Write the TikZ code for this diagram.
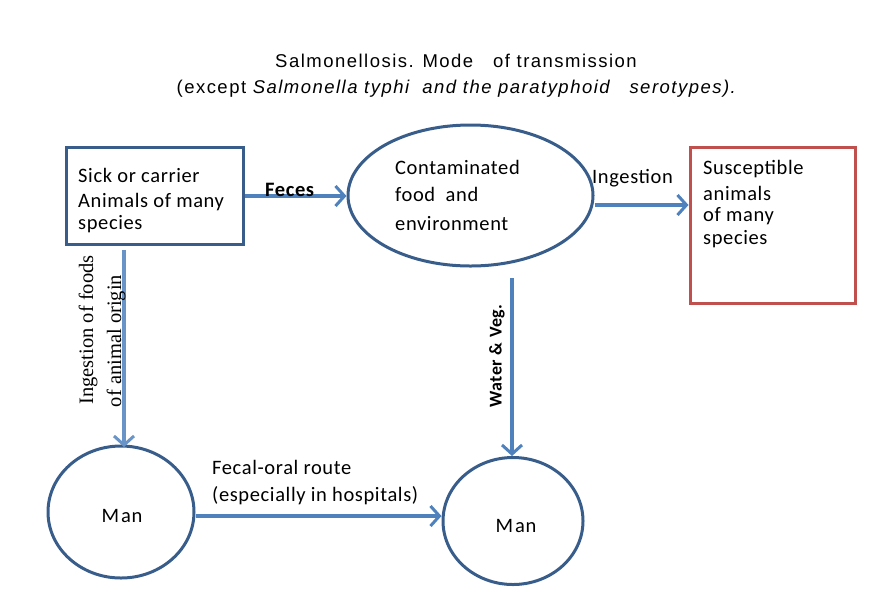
\documentclass[tikz,border=0pt]{standalone}
\usepackage{fontspec}
\setmainfont{Carlito}[LetterSpace=3]
\newfontfamily\titlefont{Liberation Sans}[LetterSpace=8]
\newfontfamily\serifl{Liberation Serif}
\usetikzlibrary{arrows.meta,shapes.geometric}
\definecolor{darkb}{HTML}{385D8A}
\definecolor{arrb}{HTML}{4F81BD}
\definecolor{redb}{HTML}{C0504D}
\tikzset{
  boxs/.style={draw=darkb, line width=3pt, minimum width=177pt, minimum height=97pt},
  redbox/.style={draw=redb, line width=3pt, minimum width=165pt, minimum height=156pt},
  ell/.style={draw=darkb, line width=3pt, ellipse},
  conn/.style={draw=arrb, line width=4pt, -{Straight Barb[length=9pt,width=20pt,line width=3pt]}},
  lbl/.style={font=\fontsize{20.5}{24}\selectfont, inner sep=0pt, anchor=base west},
}
\begin{document}
\begin{tikzpicture}[x=1pt,y=-1pt]
\useasboundingbox (0,0) rectangle (885,614);
% title
\node[font=\titlefont\fontsize{18.5}{22}\selectfont, inner sep=0pt, anchor=base] (title1) at (456,67)
  {Salmonellosis. Mode \ \ of transmission};
\node[font=\titlefont\fontsize{18.5}{22}\selectfont, inner sep=0pt, anchor=base] (title2) at (457,93)
  {(except \textit{Salmonella typhi \ and the paratyphoid \ \ serotypes).}};
% nodes
\node[boxs] (sick) at (154.5,195.5) {};
\node[lbl] (sick1) at (78,182) {Sick or carrier};
\node[lbl] (sick2) at (78,207) {Animals of many};
\node[lbl] (sick3) at (78,229) {species};
\node[ell, minimum width=245pt, minimum height=141pt] (food) at (470.5,195.5) {};
\node[lbl] (food1) at (395,174.5) {Contaminated};
\node[lbl] (food2) at (395,201) {food \ and};
\node[lbl] (food3) at (395,230) {environment};
\node[redbox] (sus) at (772.5,225) {};
\node[lbl] (sus1) at (703,174.5) {Susceptible};
\node[lbl] (sus2) at (703,200) {animals};
\node[lbl] (sus3) at (703,221) {of many};
\node[lbl] (sus4) at (703,244) {species};
\node[ell, minimum width=146pt, minimum height=132pt] (man1) at (121,512) {};
\node[lbl, anchor=base] (man1txt) at (122,522) {M\kern2pt an};
\node[ell, minimum width=140pt, minimum height=127pt] (man2) at (513,521) {};
\node[lbl, anchor=base] (man2txt) at (516,532) {M\kern2pt an};
% connectors
\draw[conn] (sick.east |- 0,196) -- (food.west |- 0,196);
\node[lbl, font=\bfseries\fontsize{20.5}{22}\selectfont] (fecl) at (265,196) {Feces};
\draw[conn] (food.east |- 0,205) -- (sus.west |- 0,205);
\node[lbl] (ingl) at (592,183) {Ingestion};
\coordinate (wtop) at (512,278);
\draw[conn] (wtop) -- (512,456);
\node[rotate=90, inner sep=0pt, font=\bfseries\fontsize{18}{20}\selectfont] (wl) at (497,356) {Water \& Veg.};
\coordinate (ltop) at (124,250);
\draw[conn, draw=arrb!85] (ltop) -- (124,447);
\node[rotate=90, inner sep=0pt, font=\serifl\fontsize{20.5}{24}\selectfont] (il1) at (88,330) {Ingestion of foods};
\node[rotate=90, inner sep=0pt, font=\serifl\fontsize{20.5}{24}\selectfont] (il2) at (116,341) {of animal origin};
\draw[conn] (man1.east |- 0,516) -- (man2.west |- 0,516);
\node[lbl] (fol1) at (212,474) {Fecal-oral route};
\node[lbl] (fol2) at (212,501) {(especially in hospitals)};
\end{tikzpicture}
\end{document}
